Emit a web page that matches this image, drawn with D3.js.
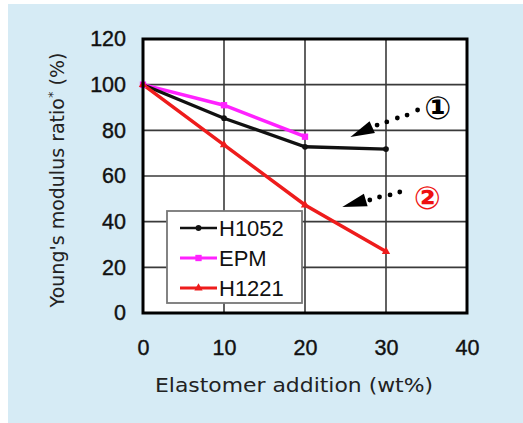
<!DOCTYPE html>
<html><head><meta charset="utf-8">
<script src="https://cdn.jsdelivr.net/npm/d3@7"></script>
<style>body{margin:0;background:#fff}svg{display:block}</style>
</head><body>
<svg id="c" width="523" height="423"></svg>
<script>
const xTicks = [0, 10, 20, 30, 40];
const yTicks = [0, 20, 40, 60, 80, 100, 120];
const seriesNames = ["H1052", "EPM", "H1221"];
const h1052X = [0, 10, 20, 30];
const h1052Y = [100, 85.3, 72.8, 71.8];
const epmX = [0, 10, 20];
const epmY = [100, 91, 77.2];
const h1221X = [0, 10, 20, 30];
const h1221Y = [100, 73.6, 47.3, 26.9];
const xTitle = "Elastomer addition (wt%)";
const yTitle = "Young's modulus ratio";
const notes = ["①", "②"];

const svg = d3.select("#c");
svg.append("rect").attr("x", 8).attr("y", 4).attr("width", 515).attr("height", 419).attr("fill", "#d6ebf5");

const x = d3.scaleLinear().domain([0, 40]).range([143, 467]);
const y = d3.scaleLinear().domain([0, 120]).range([313, 39]);

svg.append("rect").attr("x", x(0)).attr("y", y(120)).attr("width", x(40) - x(0)).attr("height", y(0) - y(120)).attr("fill", "#fff");

// grid
svg.append("g").selectAll("line").data(xTicks.slice(1, -1)).join("line")
  .attr("x1", d => x(d)).attr("x2", d => x(d)).attr("y1", y(0)).attr("y2", y(120))
  .attr("stroke", "#3a3a3a").attr("stroke-width", 1.6);
svg.append("g").selectAll("line").data(yTicks.slice(1, -1)).join("line")
  .attr("y1", d => y(d)).attr("y2", d => y(d)).attr("x1", x(0)).attr("x2", x(40))
  .attr("stroke", "#3a3a3a").attr("stroke-width", 1.6);

const fontTick = "'Liberation Sans', Arial, sans-serif";
const xAx = svg.append("g").attr("transform", `translate(0,${y(0)})`)
  .call(d3.axisBottom(x).tickValues(xTicks).tickSize(0).tickPadding(27));
xAx.select(".domain").remove();
xAx.selectAll("text").attr("font-size", 21.5).attr("font-family", fontTick).attr("fill", "#111")
  .attr("stroke", "#111").attr("stroke-width", 0.4);
const yAx = svg.append("g").attr("transform", `translate(${x(0)},0)`)
  .call(d3.axisLeft(y).tickValues(yTicks).tickSize(0).tickPadding(17));
yAx.select(".domain").remove();
yAx.selectAll("text").attr("font-size", 21.5).attr("font-family", fontTick).attr("fill", "#111")
  .attr("stroke", "#111").attr("stroke-width", 0.4);

// series
const line = d3.line().x(d => x(d[0])).y(d => y(d[1]));
const sH1052 = h1052X.map((v, i) => [v, h1052Y[i]]);
const sEPM = epmX.map((v, i) => [v, epmY[i]]);
const sH1221 = h1221X.map((v, i) => [v, h1221Y[i]]);
const colors = ["#111", "#ff22ff", "#ee1c1c"];

svg.append("path").datum(sEPM).attr("d", line).attr("fill", "none").attr("stroke", colors[1]).attr("stroke-width", 3.5);
svg.append("path").datum(sH1052).attr("d", line).attr("fill", "none").attr("stroke", colors[0]).attr("stroke-width", 3.3);
svg.append("path").datum(sH1221).attr("d", line).attr("fill", "none").attr("stroke", colors[2]).attr("stroke-width", 3.5);

const markers = [d3.symbolCircle, d3.symbolSquare, d3.symbolTriangle];
const sizes = [26, 40, 30];
[sH1052, sEPM, sH1221].forEach((s, k) => {
  svg.append("g").selectAll("path").data(s).join("path")
    .attr("transform", d => `translate(${x(d[0])},${y(d[1])})`)
    .attr("d", d3.symbol(markers[k], sizes[k])).attr("fill", colors[k]);
});

// border
svg.append("rect").attr("x", x(0)).attr("y", y(120)).attr("width", x(40) - x(0)).attr("height", y(0) - y(120))
  .attr("fill", "none").attr("stroke", "#000").attr("stroke-width", 3);

// legend
const lg = svg.append("g");
lg.append("rect").attr("x", 167).attr("y", 211).attr("width", 135).attr("height", 92)
  .attr("fill", "#fff").attr("stroke", "#777").attr("stroke-width", 1.8);
seriesNames.forEach((n, i) => {
  const cy = 228 + i * 30;
  lg.append("line").attr("x1", 180).attr("x2", 217).attr("y1", cy).attr("y2", cy)
    .attr("stroke", colors[i]).attr("stroke-width", i === 0 ? 2.5 : 3);
  lg.append("path").attr("transform", `translate(198.5,${cy})`).attr("d", d3.symbol(markers[i], sizes[i])).attr("fill", colors[i]);
  lg.append("text").attr("x", 219).attr("y", cy + 8).text(n)
    .attr("font-size", 22).attr("font-family", fontTick).attr("fill", "#111");
});

// titles
const fontTitle = "'DejaVu Sans', sans-serif";
svg.append("text").attr("x", 294).attr("y", 392).attr("text-anchor", "middle")
  .attr("font-size", 19).attr("font-family", fontTitle).attr("fill", "#222")
  .attr("textLength", 278).attr("lengthAdjust", "spacingAndGlyphs").text(xTitle);
const yt = svg.append("text").attr("transform", "translate(64,180) rotate(-90)").attr("text-anchor", "middle")
  .attr("font-size", 19).attr("font-family", fontTitle).attr("fill", "#222");
yt.append("tspan").text(yTitle);
yt.append("tspan").attr("dy", -7).attr("font-size", 13).text("*");
yt.append("tspan").attr("dy", 7).text(" (%)");

// annotations
function arrow(tip, base, dots) {
  const tx = x(tip[0]), ty = y(tip[1]), bx = x(base[0]), by = y(base[1]);
  const dx = bx - tx, dy = by - ty, L = Math.hypot(dx, dy);
  const nx = -dy / L * 6.5, ny = dx / L * 6.5;
  svg.append("path").attr("d", `M${tx},${ty}L${bx + nx},${by + ny}L${bx - nx},${by - ny}Z`).attr("fill", "#000");
  svg.append("g").selectAll("circle").data(dots).join("circle")
    .attr("cx", d => x(d[0])).attr("cy", d => y(d[1])).attr("r", 2.4).attr("fill", "#000");
}
arrow([25.6, 77.1], [28.3, 81.4], [[28.9, 82.3], [30.1, 83.7], [31.4, 85.4], [32.6, 86.7], [33.9, 88.9]]);
arrow([24.6, 46.4], [27.5, 49.5], [[28.0, 49.5], [29.2, 50.8], [30.5, 51.7], [31.7, 53.0]]);
svg.append("text").attr("x", x(36.4)).attr("y", y(89.6)).attr("text-anchor", "middle").attr("dominant-baseline", "central")
  .attr("font-size", 32).attr("font-weight", "bold").attr("font-family", "'DejaVu Sans', sans-serif").attr("fill", "#000").text(notes[0]);
svg.append("text").attr("x", x(35.1)).attr("y", y(50.4)).attr("text-anchor", "middle").attr("dominant-baseline", "central")
  .attr("font-size", 32).attr("font-weight", "bold").attr("font-family", "'DejaVu Sans', sans-serif").attr("fill", "#ee1111").text(notes[1]);
</script>
</body></html>
